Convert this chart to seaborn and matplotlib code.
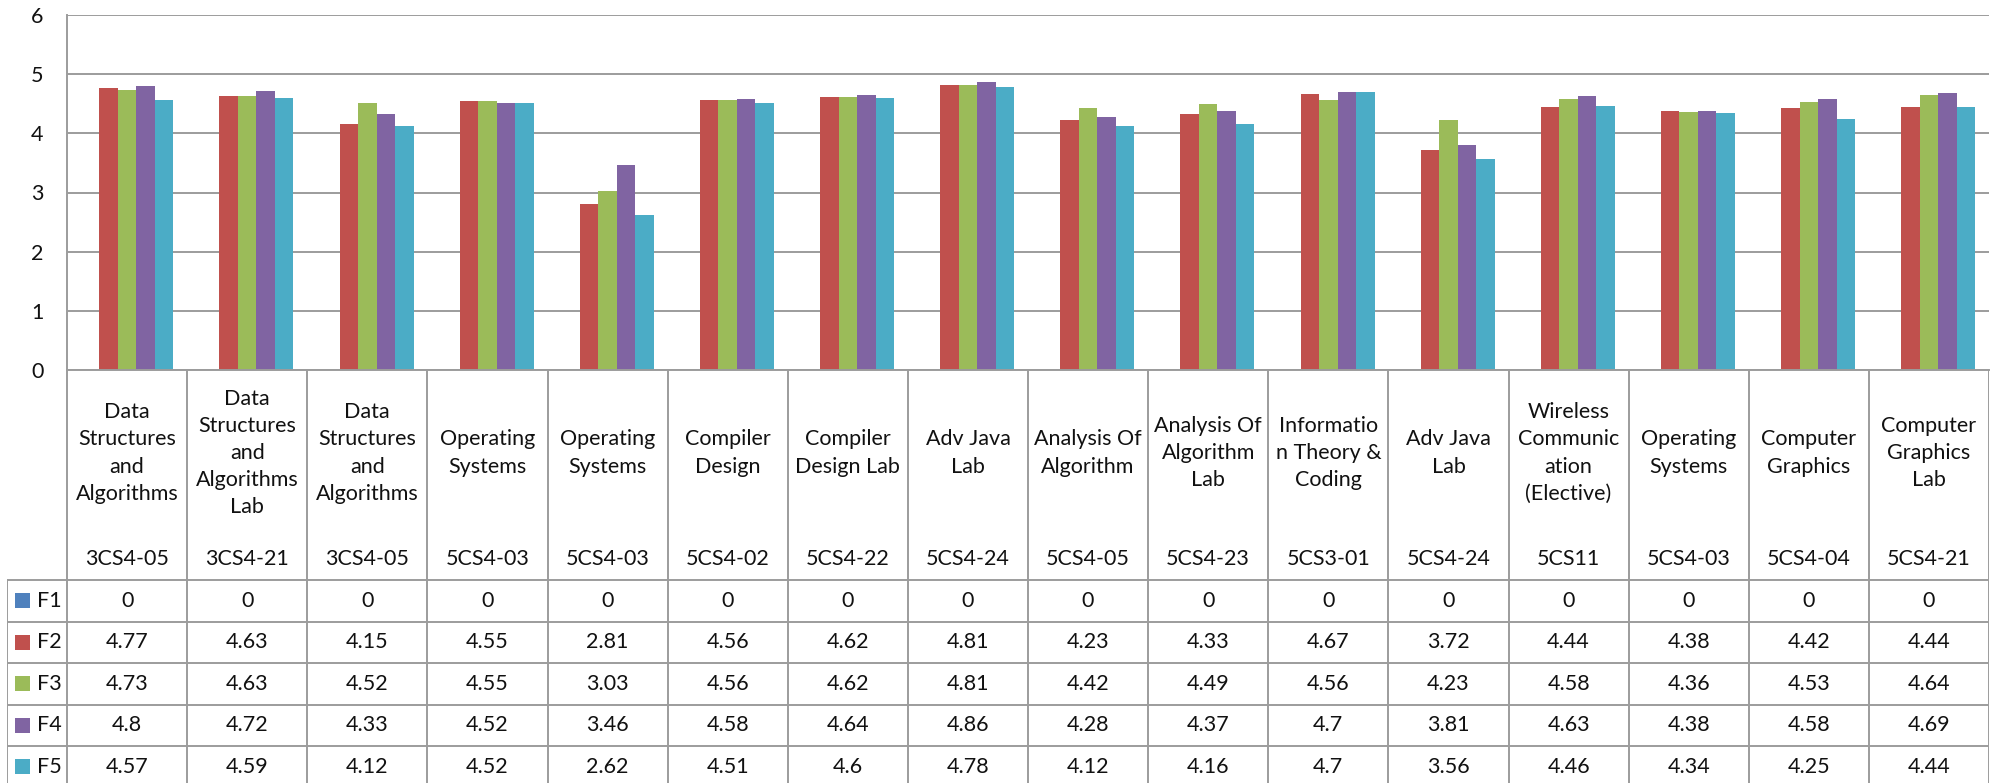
import numpy as np
import pandas as pd
import matplotlib
matplotlib.use("Agg")
import matplotlib.pyplot as plt
import seaborn as sns
from matplotlib.patches import Rectangle

# course names (with the line breaks as shown) and codes
subjects = [
    "Data\nStructures\nand\nAlgorithms",
    "Data\nStructures\nand\nAlgorithms\nLab",
    "Data\nStructures\nand\nAlgorithms",
    "Operating\nSystems",
    "Operating\nSystems",
    "Compiler\nDesign",
    "Compiler\nDesign Lab",
    "Adv Java\nLab",
    "Analysis Of\nAlgorithm",
    "Analysis Of\nAlgorithm\nLab",
    "Informatio\nn Theory &\nCoding",
    "Adv Java\nLab",
    "Wireless\nCommunic\nation\n(Elective)",
    "Operating\nSystems",
    "Computer\nGraphics",
    "Computer\nGraphics\nLab",
]
codes = ["3CS4-05", "3CS4-21", "3CS4-05", "5CS4-03", "5CS4-03", "5CS4-02", "5CS4-22", "5CS4-24",
         "5CS4-05", "5CS4-23", "5CS3-01", "5CS4-24", "5CS11", "5CS4-03", "5CS4-04", "5CS4-21"]

series = ["F1", "F2", "F3", "F4", "F5"]
f1 = [0, 0, 0, 0, 0, 0, 0, 0, 0, 0, 0, 0, 0, 0, 0, 0]
f2 = [4.77, 4.63, 4.15, 4.55, 2.81, 4.56, 4.62, 4.81, 4.23, 4.33, 4.67, 3.72, 4.44, 4.38, 4.42, 4.44]
f3 = [4.73, 4.63, 4.52, 4.55, 3.03, 4.56, 4.62, 4.81, 4.42, 4.49, 4.56, 4.23, 4.58, 4.36, 4.53, 4.64]
f4 = [4.8, 4.72, 4.33, 4.52, 3.46, 4.58, 4.64, 4.86, 4.28, 4.37, 4.7, 3.81, 4.63, 4.38, 4.58, 4.69]
f5 = [4.57, 4.59, 4.12, 4.52, 2.62, 4.51, 4.6, 4.78, 4.12, 4.16, 4.7, 3.56, 4.46, 4.34, 4.25, 4.44]
values = [f1, f2, f3, f4, f5]
colors = ["#4F81BD", "#C0504D", "#9BBB59", "#8064A2", "#4BACC6"]

n = len(codes)
df = pd.DataFrame({
    "col": np.tile(np.arange(n), len(series)),
    "series": np.repeat(series, n),
    "score": np.concatenate(values),
})

sns.set_style("white")
plt.rcParams["font.family"] = ["Lato", "DejaVu Sans"]
TXT = "#111111"
GRID = "#9c9c9c"
FS = 15.5

W, H = 2001, 783
fig = plt.figure(figsize=(W / 100, H / 100), dpi=100)

# pixel layout of the Excel chart
x0, x1 = 67, 1989        # plot left / right
y_top, y_axis = 15, 370  # plot top / category axis
colw = (x1 - x0) / n

ax = fig.add_axes([x0 / W, 1 - y_axis / H, (x1 - x0) / W, (y_axis - y_top) / H])
sns.barplot(data=df, x="col", y="score", hue="series", hue_order=series,
            palette=colors, width=0.77, linewidth=0, saturation=1,
            legend=False, ax=ax)
ax.set_xlim(-0.5, n - 0.5)
ax.set_ylim(0, 6)
ax.set_yticks(range(7))
ax.set_xticks([])
ax.set_xlabel("")
ax.set_ylabel("")
ax.set_axisbelow(True)
ax.yaxis.grid(True, color=GRID, linewidth=1.4)
ax.tick_params(axis="y", length=0, pad=17, labelsize=FS, labelcolor=TXT)
for s in ["top", "right"]:
    ax.spines[s].set_visible(False)
for s in ["left", "bottom"]:
    ax.spines[s].set_color(GRID)
    ax.spines[s].set_linewidth(1.4)

# data table below the chart
leg_x = 7
ax_t = fig.add_axes([leg_x / W, 0, (x1 - leg_x) / W, (H - y_axis) / H])
left_idx = -0.5 - (x0 - leg_x) / colw
ax_t.set_xlim(left_idx, n - 0.5)
ax_t.set_ylim(H, y_axis)
ax_t.axis("off")

row_top = 580
row_h = 41.5
rows_y = [row_top + k * row_h for k in range(len(series) + 1)]

lk = dict(color=GRID, linewidth=1.4, solid_capstyle="butt")
for i in range(n + 1):
    ax_t.plot([i - 0.5, i - 0.5], [y_axis, H], **lk)
ax_t.plot([left_idx, left_idx], [row_top, H], **lk)
for y in rows_y:
    ax_t.plot([left_idx, n - 0.5], [y, y], **lk)

for i in range(n):
    ax_t.text(i, 453, subjects[i], ha="center", va="center", fontsize=FS,
              color=TXT, linespacing=1.45)
    ax_t.text(i, 559, codes[i], ha="center", va="center", fontsize=FS, color=TXT)

for k, name in enumerate(series):
    yc = rows_y[k] + row_h / 2
    sq = 15 / colw
    ax_t.add_patch(Rectangle((left_idx + 8 / colw, yc - 7.5), sq, 15,
                             facecolor=colors[k], edgecolor="none"))
    ax_t.text(left_idx + 30 / colw, yc, name, ha="left", va="center",
              fontsize=FS, color=TXT)
    for i in range(n):
        ax_t.text(i, yc, f"{values[k][i]:g}", ha="center", va="center",
                  fontsize=FS, color=TXT)

fig.savefig("out.png", dpi=100)
